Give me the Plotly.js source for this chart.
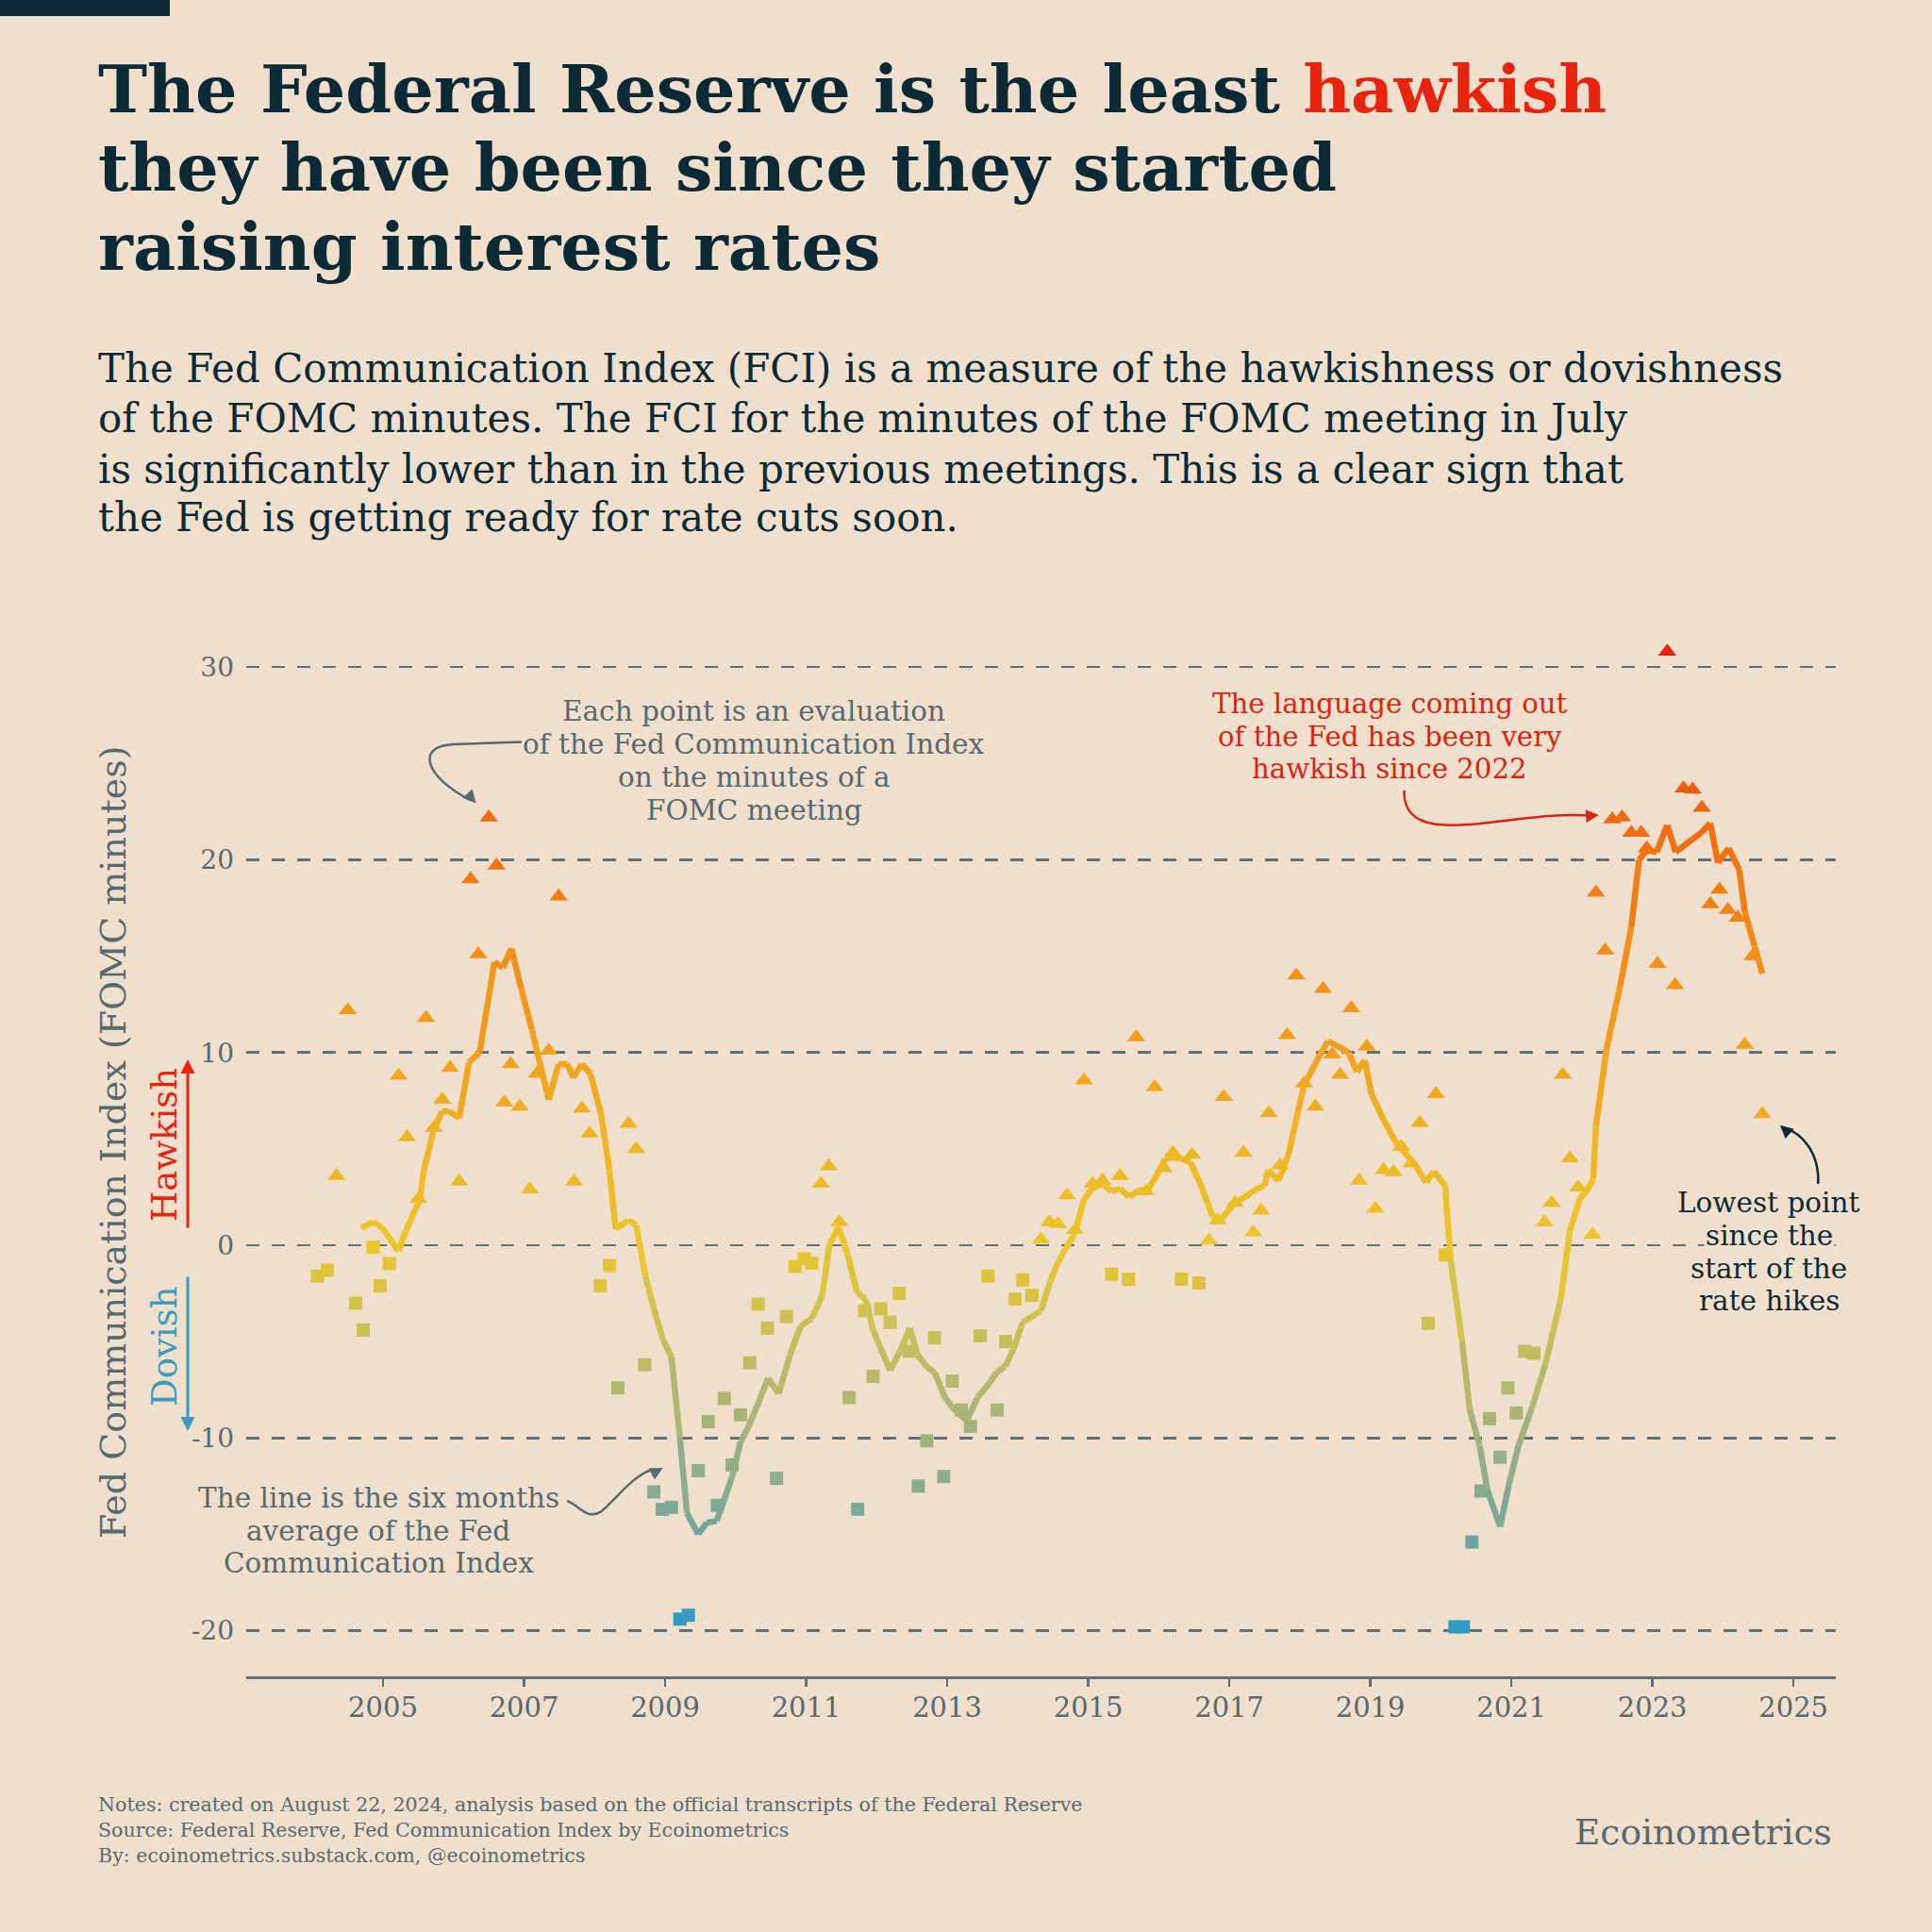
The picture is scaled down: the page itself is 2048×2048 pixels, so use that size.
<!DOCTYPE html>
<html>
<head>
<meta charset="utf-8">
<script src="https://cdn.plot.ly/plotly-3.0.1.min.js"></script>
<style>html,body{margin:0;padding:0;background:#f1dfcd;}#chart{width:2048px;height:2048px;}</style>
</head>
<body>
<div id="chart"></div>
<script>
// ---------- DATA ----------
// FCI evaluation of each FOMC meeting minutes (decimal year, index value)
const meetingDates = [
 2004.07,2004.21,2004.34,2004.50,2004.61,2004.72,2004.86,2004.96,
 2005.09,2005.22,2005.34,2005.50,2005.61,2005.72,2005.84,2005.95,
 2006.08,2006.24,2006.35,2006.50,2006.61,2006.72,2006.81,2006.94,
 2007.08,2007.18,2007.35,2007.49,2007.71,2007.82,2007.93,
 2008.08,2008.21,2008.33,2008.48,2008.59,2008.71,2008.84,2008.96,
 2009.09,2009.21,2009.33,2009.47,2009.61,2009.74,2009.84,2009.95,
 2010.07,2010.20,2010.32,2010.45,2010.58,2010.72,2010.84,2010.97,
 2011.08,2011.21,2011.32,2011.47,2011.61,2011.73,2011.83,2011.95,
 2012.06,2012.19,2012.32,2012.46,2012.59,2012.71,2012.82,2012.95,
 2013.07,2013.20,2013.33,2013.47,2013.58,2013.71,2013.83,2013.96,
 2014.07,2014.20,2014.33,2014.45,2014.57,2014.70,2014.81,2014.94,
 2015.06,2015.20,2015.33,2015.45,2015.57,2015.68,2015.82,2015.94,
 2016.07,2016.20,2016.32,2016.47,2016.57,2016.71,2016.84,2016.92,
 2017.08,2017.20,2017.34,2017.45,2017.56,2017.72,2017.82,2017.95,
 2018.06,2018.22,2018.33,2018.46,2018.57,2018.73,2018.84,2018.95,
 2019.07,2019.19,2019.33,2019.44,2019.58,2019.70,2019.82,2019.93,
 2020.06,2020.20,2020.32,2020.44,2020.57,2020.69,2020.84,2020.95,
 2021.07,2021.19,2021.32,2021.47,2021.57,2021.73,2021.83,2021.95,
 2022.15,2022.20,2022.33,2022.43,2022.57,2022.70,2022.84,2022.92,
 2023.07,2023.21,2023.32,2023.44,2023.57,2023.70,2023.82,2023.95,
 2024.07,2024.21,2024.31,2024.42,2024.56
];
const meetingFCI = [
 -1.6,-1.3,3.6,12.2,-3.0,-4.4,-0.1,-2.1,
 -0.95,8.8,5.6,2.4,11.8,6.1,7.55,9.2,
 3.3,19.0,15.1,22.2,19.7,7.4,9.4,7.2,
 2.9,8.9,10.1,18.1,3.3,7.1,5.8,
 -2.1,-1.05,-7.4,6.3,5.0,-6.2,-12.8,-13.7,
 -13.6,-19.4,-19.2,-11.7,-9.15,-13.5,-7.95,-11.4,
 -8.8,-6.1,-3.06,-4.3,-12.1,-3.7,-1.1,-0.7,
 -0.93,3.2,4.1,1.2,-7.9,-13.7,-3.4,-6.8,
 -3.3,-4.0,-2.5,-5.5,-12.5,-10.15,-4.8,-12.0,
 -7.05,-8.55,-9.4,-4.7,-1.6,-8.55,-5.0,-2.8,
 -1.8,-2.6,0.3,1.2,1.1,2.6,0.8,8.55,
 3.2,3.35,-1.5,3.6,-1.77,10.8,2.8,8.2,
 4.0,4.8,-1.76,4.7,-1.96,0.25,1.3,7.7,
 2.2,4.8,0.67,1.8,6.85,4.15,10.9,14.0,
 8.4,7.2,13.3,9.9,8.85,12.3,3.35,10.3,
 1.9,3.9,3.8,5.1,4.25,6.35,-4.05,7.85,
 -0.5,-19.8,-19.8,-15.4,-12.75,-9.0,-11.0,-7.4,
 -8.7,-5.5,-5.6,1.2,2.2,8.85,4.5,3.0,
 0.55,18.3,15.3,22.1,22.2,21.4,21.4,20.6,
 14.6,30.8,13.5,23.7,23.65,22.7,17.7,18.45,
 17.4,17.0,10.4,15.0,6.8
];
// Six months average of the FCI
const avgDates = [
 2004.69,2004.86,2004.98,2005.22,2005.33,2005.52,2005.58,2005.72,2005.84,2005.94,
 2006.08,2006.22,2006.37,2006.58,2006.70,2006.82,2006.96,2007.11,2007.35,2007.49,
 2007.61,2007.70,2007.82,2007.94,2008.09,2008.21,2008.30,2008.48,2008.59,2008.72,
 2008.84,2008.97,2009.09,2009.21,2009.31,2009.47,2009.59,2009.73,2009.84,2009.95,
 2010.07,2010.16,2010.32,2010.46,2010.61,2010.77,2010.92,2011.08,2011.23,2011.33,
 2011.46,2011.59,2011.72,2011.84,2011.95,2012.05,2012.19,2012.33,2012.47,2012.58,
 2012.71,2012.82,2012.97,2013.07,2013.18,2013.28,2013.43,2013.59,2013.70,2013.82,
 2013.95,2014.07,2014.20,2014.33,2014.46,2014.57,2014.69,2014.81,2014.94,2015.07,
 2015.20,2015.33,2015.45,2015.58,2015.71,2015.84,2016.00,2016.09,2016.20,2016.31,
 2016.45,2016.61,2016.76,2016.86,2016.99,2017.08,2017.22,2017.37,2017.50,2017.55,
 2017.70,2017.84,2017.97,2018.06,2018.23,2018.40,2018.55,2018.69,2018.81,2018.92,
 2019.02,2019.19,2019.35,2019.51,2019.63,2019.79,2019.90,2020.06,2020.14,2020.30,
 2020.41,2020.55,2020.66,2020.84,2020.96,2021.10,2021.29,2021.48,2021.59,2021.70,
 2021.83,2021.97,2022.08,2022.16,2022.20,2022.35,2022.54,2022.70,2022.81,2022.92,
 2023.06,2023.21,2023.33,2023.47,2023.69,2023.82,2023.93,2024.08,2024.23,2024.31,
 2024.45,2024.56
];
const avgFCI = [
 0.9,1.2,0.94,-0.3,0.8,2.35,3.9,6.0,6.95,6.95,
 6.6,9.5,10.0,14.7,14.4,15.4,13.3,11.2,7.55,9.4,
 9.4,8.7,9.4,8.9,6.85,3.9,0.84,1.3,1.04,-1.6,
 -3.3,-4.9,-5.8,-10.0,-13.9,-15.0,-14.4,-14.3,-13.2,-12.0,
 -10.2,-9.6,-8.2,-6.9,-7.7,-5.7,-4.2,-3.8,-2.6,0.07,
 0.94,-0.5,-2.45,-2.8,-4.4,-5.3,-6.5,-5.5,-4.3,-5.7,
 -6.3,-6.6,-7.9,-8.4,-8.8,-9.1,-7.9,-7.2,-6.6,-6.3,
 -5.3,-4.0,-3.7,-3.4,-1.9,-0.9,-0.1,0.6,2.4,3.0,
 3.2,2.8,2.94,2.5,2.85,2.85,3.8,4.5,4.55,4.5,
 4.3,3.0,1.5,1.25,1.8,2.2,2.5,2.9,3.1,3.9,
 3.35,4.7,6.85,8.3,9.5,10.6,10.3,10.0,9.0,9.6,
 7.8,6.5,5.4,4.7,4.2,3.26,3.83,3.1,-0.8,-4.96,
 -8.55,-10.4,-12.7,-14.6,-12.5,-10.4,-8.45,-6.2,-4.5,-2.8,
 0.74,2.4,2.9,3.4,6.2,10.2,13.4,16.5,20.0,20.5,
 20.4,21.8,20.4,20.8,21.4,21.9,19.85,20.6,19.5,17.3,
 15.5,14.1
];
const yearTicks = [2005,2007,2009,2011,2013,2015,2017,2019,2021,2023,2025];
const valueTicks = [-20,-10,0,10,20,30];
const titleLines = [
 'The Federal Reserve is the least <span style="color:#e8230e">hawkish</span>',
 'they have been since they started',
 'raising interest rates'
];
const subtitleLines = [
 'The Fed Communication Index (FCI) is a measure of the hawkishness or dovishness',
 'of the FOMC minutes. The FCI for the minutes of the FOMC meeting in July',
 'is significantly lower than in the previous meetings. This is a clear sign that',
 'the Fed is getting ready for rate cuts soon.'
];
const notePointLines = ['Each point is an evaluation','of the Fed Communication Index','on the minutes of a','FOMC meeting'];
const noteLineLines = ['The line is the six months','average of the Fed','Communication Index'];
const noteHawkLines = ['The language coming out','of the Fed has been very','hawkish since 2022'];
const noteLowLines = ['Lowest point','since the','start of the','rate hikes'];

// ---------- STYLE ----------
const BG = '#f1dfcd';
const DARK = '#0b2a36';
const SLATE = '#566a70';
const SERIF = '"DejaVu Serif", "Liberation Serif", serif';
const CMIN = -20, CMAX = 31;
const stops = [
 [-20,'#2b9bc6'],[-15,'#6fa69f'],[-12,'#8fad8a'],[-8,'#b0b672'],[-4,'#cdc154'],
 [0,'#eac62c'],[5,'#efb626'],[10,'#f0a220'],[16,'#f28a18'],[22,'#f06a10'],[31,'#e8200c']
];
const colorscale = stops.map(s => [(s[0]-CMIN)/(CMAX-CMIN), s[1]]);
function hex2rgb(h){return [1,3,5].map(i=>parseInt(h.substr(i,2),16));}
function colorAt(v){
  if (v <= stops[0][0]) return stops[0][1];
  for (let i=1;i<stops.length;i++){
    if (v <= stops[i][0]){
      const t=(v-stops[i-1][0])/(stops[i][0]-stops[i-1][0]);
      const a=hex2rgb(stops[i-1][1]), b=hex2rgb(stops[i][1]);
      return 'rgb('+a.map((c,k)=>Math.round(c+(b[k]-c)*t)).join(',')+')';
    }
  }
  return stops[stops.length-1][1];
}

// plot area in page pixels
const X0=261, X1=1946, YT=680, YB=1777;
const px = X => (X-X0)/(X1-X0);
const py = Y => (YB-Y)/(YB-YT);

// ---------- TRACES ----------
const traces = [];
const upX=[],upY=[],dnX=[],dnY=[];
meetingDates.forEach((d,i)=>{ if(meetingFCI[i]>=0){upX.push(d);upY.push(meetingFCI[i]);} else {dnX.push(d);dnY.push(meetingFCI[i]);} });
traces.push({type:'scatter',mode:'markers',x:dnX,y:dnY,hoverinfo:'x+y',
  marker:{symbol:'square',size:14,color:dnY,colorscale:colorscale,cmin:CMIN,cmax:CMAX,line:{width:0}}});
traces.push({type:'scatter',mode:'markers',x:upX,y:upY,hoverinfo:'x+y',
  marker:{symbol:'triangle-up',size:17,color:upY,colorscale:colorscale,cmin:CMIN,cmax:CMAX,line:{width:0}}});
for (let i=0;i<avgDates.length-1;i++){
  traces.push({type:'scatter',mode:'lines',x:[avgDates[i],avgDates[i+1]],y:[avgFCI[i],avgFCI[i+1]],
    hoverinfo:'skip',line:{color:colorAt((avgFCI[i]+avgFCI[i+1])/2),width:6.5}});
}

// ---------- ANNOTATIONS ----------
const ann = [];
function txt(o){ann.push(Object.assign({xref:'paper',yref:'paper',showarrow:false},o));}
function block(lines, cx, top, step, size, color, bg){
  lines.forEach((t,i)=>txt({x:px(cx),y:py(top+i*step),xanchor:'center',yanchor:'top',align:'center',
    bgcolor:bg||'rgba(0,0,0,0)',text:t,font:{family:SERIF,size:size,color:color}}));
}
const titleTops = [51,134,218];
titleLines.forEach((t,i)=>txt({x:px(102),y:py(titleTops[i]),xanchor:'left',yanchor:'top',align:'left',
  text:t,font:{family:SERIF,size:70,color:DARK,weight:'bold'}}));
const subTops = [364,417,471,522];
subtitleLines.forEach((t,i)=>txt({x:px(102),y:py(subTops[i]),xanchor:'left',yanchor:'top',align:'left',
  text:t,font:{family:SERIF,size:42,color:DARK}}));
txt({x:px(120),y:py(1211),xanchor:'center',yanchor:'middle',textangle:-90,
  text:'Fed Communication Index (FOMC minutes)',font:{family:SERIF,size:38,color:SLATE}});
txt({x:px(174),y:py(1214),xanchor:'center',yanchor:'middle',textangle:-90,
  text:'Hawkish',font:{family:SERIF,size:37,color:'#e8230e'}});
txt({x:px(174),y:py(1427),xanchor:'center',yanchor:'middle',textangle:-90,
  text:'Dovish',font:{family:SERIF,size:37,color:'#3a9bbd'}});
ann.push({xref:'paper',yref:'paper',x:px(199),y:py(1123),ax:0,ay:180,text:'',showarrow:true,
  arrowhead:2,arrowsize:1,arrowwidth:3,arrowcolor:'#e8230e',standoff:0});
ann.push({xref:'paper',yref:'paper',x:px(199),y:py(1517),ax:0,ay:-165,text:'',showarrow:true,
  arrowhead:2,arrowsize:1,arrowwidth:3,arrowcolor:'#3a9bbd',standoff:0});
block(notePointLines, 799, 735, 35, 29.5, SLATE);
block(noteLineLines, 401, 1569, 34.5, 29.5, SLATE);
block(noteHawkLines, 1473, 727, 34.5, 29.2, '#d8250f');
block(noteLowLines, 1875, 1256, 34.8, 29.5, DARK, BG);
// arrowheads at the end of curved connectors
const heads = [
  [2006.32,22.94,-10,-11,SLATE],[2008.97,-11.55,-13,7,SLATE],
  [2022.24,22.32,-14,1,'#d8250f'],[2024.81,6.23,10,9,DARK]
];
heads.forEach(h=>ann.push({xref:'x',yref:'y',x:h[0],y:h[1],ax:h[2],ay:h[3],text:'',showarrow:true,
  arrowhead:2,arrowsize:1.1,arrowwidth:2.5,arrowcolor:h[4],standoff:0}));
txt({x:px(102),y:py(1899),xanchor:'left',yanchor:'top',align:'left',
  text:'Notes: created on August 22, 2024, analysis based on the official transcripts of the Federal Reserve<br>Source: Federal Reserve, Fed Communication Index by Ecoinometrics<br>By: ecoinometrics.substack.com, @ecoinometrics',
  font:{family:SERIF,size:20.6,color:SLATE}});
txt({x:px(1944),y:py(1942),xanchor:'right',yanchor:'middle',
  text:'Ecoinometrics',font:{family:SERIF,size:37.5,color:SLATE}});

// ---------- SHAPES ----------
const shapes = [
  {type:'rect',xref:'paper',yref:'paper',x0:px(0),x1:px(180),y0:py(0),y1:py(17),fillcolor:DARK,line:{width:0}},
  {type:'path',xref:'x',yref:'y',path:'M 2006.965,26.12 L 2006.0,25.99 C 2005.45,25.9 2005.6,24.3 2006.24,23.1',line:{color:SLATE,width:2.5}},
  {type:'path',xref:'x',yref:'y',path:'M 2007.61,-13.26 C 2007.8,-13.55 2007.9,-14.3 2008.1,-13.8 C 2008.35,-13.0 2008.55,-11.9 2008.85,-11.6',line:{color:SLATE,width:2.5}},
  {type:'path',xref:'x',yref:'y',path:'M 2019.48,23.6 C 2019.45,20.3 2021.0,22.6 2022.1,22.3',line:{color:'#d8250f',width:2.5}},
  {type:'path',xref:'x',yref:'y',path:'M 2025.35,3.18 C 2025.37,4.9 2025.1,5.8 2024.9,6.05',line:{color:DARK,width:2.5}}
];

const layout = {
  width:2048,height:2048,paper_bgcolor:BG,plot_bgcolor:BG,showlegend:false,
  margin:{l:X0,r:2048-X1,t:YT,b:2048-YB,pad:0},
  font:{family:SERIF,color:SLATE},
  xaxis:{range:[2003.06,2025.6],tickvals:yearTicks,ticktext:yearTicks.map(String),
    showgrid:false,zeroline:false,showline:true,linecolor:'#5e7176',linewidth:2.5,
    ticks:'outside',ticklen:8,tickwidth:2.5,tickcolor:'#5e7176',ticklabelstandoff:-2,
    tickfont:{family:SERIF,size:29,color:SLATE}},
  yaxis:{range:[-22.37,31.33],tickvals:valueTicks,ticktext:valueTicks.map(String),
    showgrid:true,gridcolor:'#5e7176',gridwidth:2.5,griddash:'14px,13px',zeroline:false,showline:false,
    ticks:'',ticklabelstandoff:12,tickfont:{family:SERIF,size:28,color:SLATE}},
  annotations:ann,shapes:shapes
};
Plotly.newPlot('chart',traces,layout,{staticPlot:true});
</script>
</body>
</html>
